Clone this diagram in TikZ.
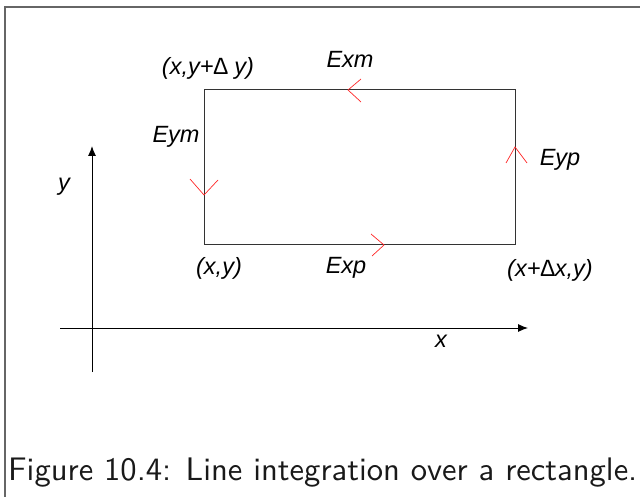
\documentclass[tikz,border=0pt]{standalone}
\usepackage{fontspec}
\usepackage{graphicx}
\newfontfamily\lab{Liberation Sans}
\usetikzlibrary{calc,arrows.meta}
\begin{document}
\begin{tikzpicture}[x=1pt,y=-1pt,
  lbl/.style={font=\fontsize{23.5}{26}\selectfont\lab\itshape, inner sep=0pt},
  edge/.style={draw=black!80, line width=1pt},
  axis/.style={draw=black, line width=1pt, -{Latex[length=10pt,width=8pt]}},
  vhead/.style={draw=red!85, line width=0.7pt},
  frame/.style={draw=black!60, line width=2pt}]
\useasboundingbox (0,0) rectangle (640,497);
% frame
\coordinate (f1) at (5,497);
\coordinate (f2) at (5,7);
\coordinate (f3) at (640,7);
\draw[frame] (f1) -- (f2) -- (f3);
% rectangle corners
\coordinate (bl) at (204,245);
\coordinate (br) at (515,245);
\coordinate (tr) at (515,90);
\coordinate (tl) at (204,90);
\draw[edge] (bl) -- (br) -- (tr) -- (tl) -- cycle;
% axes
\coordinate (yb) at (92,372);
\coordinate (yt) at (92,146);
\coordinate (xl) at (60,328);
\coordinate (xr) at (528,328);
\draw[axis] (yb) -- (yt);
\draw[axis] (xl) -- (xr);
% red arrowheads
\coordinate (exm) at (348,90);
\coordinate (eym) at (204,195);
\coordinate (eyp) at (515,147);
\coordinate (exp) at (384,245);
\draw[vhead] ($(exm)+(13,-11)$) -- (exm) -- ($(exm)+(13,12)$);
\draw[vhead] ($(eym)+(-14,-16)$) -- (eym) -- ($(eym)+(14,-15)$);
\draw[vhead] ($(eyp)+(-9,16)$) -- (eyp) -- ($(eyp)+(12,16)$);
\draw[vhead] ($(exp)+(-13,-11)$) -- (exp) -- ($(exp)+(-12,11)$);
% labels
\node[lbl] (ly) at (64,187) {y};
\node[lbl] (lx) at (441,341) {x};
\node[lbl] (ltl) at (208,68) {(x,y+\symbol{"2206} y)};
\node[lbl] (lexm) at (350,59) {Exm};
\node[lbl] (leym) at (176,137) {Eym};
\node[lbl] (leyp) at (560,160) {Eyp};
\node[lbl] (lbl0) at (219,268) {(x,y)};
\node[lbl] (lexp) at (346,268) {Exp};
\node[lbl] (lbr) at (550,270) {(x+\symbol{"2206}x,y)};
% caption
\node[inner sep=0pt, anchor=base west, text=black!90] (cap) at (8,480)
  {\resizebox{629pt}{!}{\sffamily Figure 10.4: Line integration over a rectangle.}};
\end{tikzpicture}
\end{document}
